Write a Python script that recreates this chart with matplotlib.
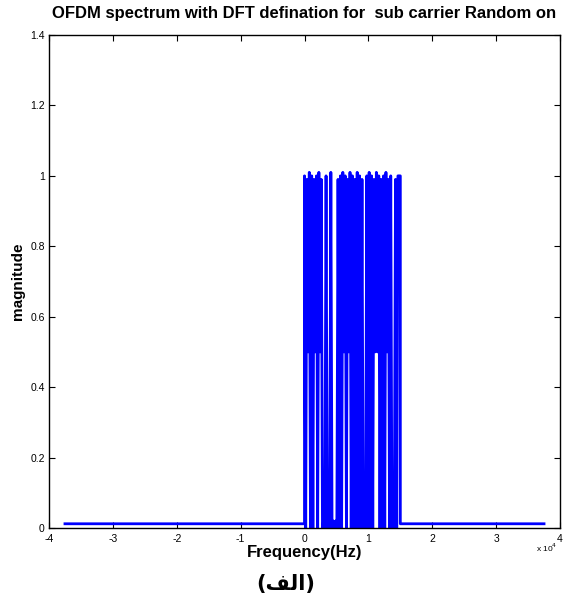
import matplotlib
matplotlib.use('Agg')
import matplotlib.pyplot as plt
from matplotlib.ticker import FuncFormatter

plt.rcParams['font.family'] = ['Liberation Sans', 'DejaVu Sans']

# spectrum data (Hz / linear magnitude)
span = 3.75e4          # plotted frequency range is -span..span
band_edge = 1.5e4      # active sub carriers sit in 0..band_edge
floor_level = 0.012    # magnitude outside the band

# magnitude at each sub carrier bin and at the bin half way to the next one
peaks = [1.00, 0.99, 1.01, 1.00, 0.99, 1.00, 1.01, 0.99, 0.02, 1.00,
         0.02, 1.01, 0.02, 0.02, 0.99, 1.00, 1.01, 1.00, 0.99, 1.01,
         1.00, 0.99, 1.01, 1.00, 0.99, 0.02, 1.00, 1.01, 1.00, 0.99,
         1.01, 1.00, 0.99, 1.00, 1.01, 0.99, 1.00, 0.02, 0.99, 1.00]
troughs = [0.0, 0.5, 0.0, 0.0, 0.5, 0.0, 0.5, 0.0, 0.0, 0.0,
           0.0, 0.0, 0.0, 0.0, 0.0, 0.0, 0.5, 0.0, 0.5, 0.0,
           0.0, 0.0, 0.0, 0.0, 0.0, 0.0, 0.0, 0.0, 0.0, 0.5,
           0.5, 0.0, 0.0, 0.0, 0.5, 0.0, 0.0, 0.0, 0.0, 1.0]

xticks = [-4, -3, -2, -1, 0, 1, 2, 3, 4]
yticks = [0, 0.2, 0.4, 0.6, 0.8, 1.0, 1.2, 1.4]

# build the spectrum trace
n = len(peaks)
df = band_edge / n
xs = [-span, 0.0]
ys = [floor_level, floor_level]
for k in range(n):
    xs += [k * df, (k + 0.5) * df]
    ys += [peaks[k], troughs[k]]
xs += [band_edge, band_edge, span]
ys += [troughs[-1], floor_level, floor_level]

fig = plt.figure(figsize=(5.72, 6.05), dpi=100)
ax = fig.add_axes([49 / 572, 1 - 528 / 605, (560 - 49) / 572, (528 - 35) / 605])

ax.plot(xs, ys, color='#0000ff', linewidth=2.0)

ax.set_xlim(-4e4, 4e4)
ax.set_ylim(0, 1.4)
ax.set_xticks([t * 1e4 for t in xticks])
ax.xaxis.set_major_formatter(FuncFormatter(lambda v, p: '%g' % (v / 1e4)))
ax.set_yticks(yticks)
ax.yaxis.set_major_formatter(FuncFormatter(lambda v, p: '%g' % v))
ax.tick_params(direction='in', top=True, right=True, labelsize=7.5,
               length=4, width=0.8)
ax.tick_params(axis='x', pad=4)
ax.tick_params(axis='y', pad=3)
for s in ax.spines.values():
    s.set_linewidth(1.0)

ax.set_title('OFDM spectrum with DFT defination for  sub carrier Random on',
             fontsize=12.0, fontweight='bold', pad=12)
ax.set_ylabel('magnitude', fontsize=11, fontweight='bold', labelpad=4)
ax.set_xlabel('Frequency(Hz)', fontsize=12, fontweight='bold', labelpad=1)
ax.text(0.995, -0.028, 'x 10$^4$', transform=ax.transAxes, fontsize=6,
        ha='right', va='top')

# caption under the figure (Arabic letters given in their joined forms)
fig.text(0.5, 1 - 584 / 605, '(\ufed2\ufedf\u0627)', ha='center', va='center',
         fontsize=15, fontweight='bold', family=['DejaVu Sans'])

fig.savefig('out.png', dpi=100)
